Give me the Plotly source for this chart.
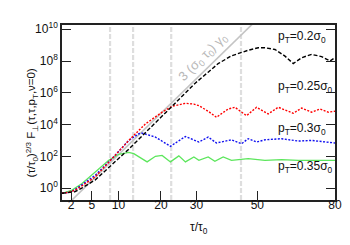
import numpy as np
import plotly.graph_objects as go

# ---------------- data ----------------
x_tick_vals = [2, 5, 10, 20, 30, 50, 80]
y_tick_exps = [0, 2, 4, 6, 8, 10]

# vertical marker times (tau/tau0)
vline_tau = [8.30, 13.18, 22.76, 44.3]

# reference line 3 (sigma0 tau0) ... : log10 values
tau_ref = [2.0, 80.0]
logF_ref = [-0.81, 15.40]

# pT = 0.2 sigma0 (black dashed)
tau_02 = [1.011, 1.646, 2.466, 3.375, 5.596, 12.21, 20.32, 29.70, 33.58, 36.75,
          41.10, 46.79, 50.31, 52.72, 56.38, 60.13, 63.30, 66.52, 70.47, 74.50,
          77.93, 80.0]
logF_02 = [-0.33, -0.29, -0.23, -0.02, 0.52, 2.45, 4.55, 6.62, 7.30, 7.84,
           8.33, 8.68, 8.84, 8.84, 8.73, 8.31, 7.84, 8.21, 8.42, 8.28,
           8.00, 8.21]

# pT = 0.25 sigma0 (red dotted)
tau_025 = [1.011, 1.646, 2.466, 3.375, 5.596, 8.691, 12.21, 16.08, 20.32, 23.01,
           26.76, 29.23, 30.73, 33.58, 36.20, 40.00, 42.24, 46.20, 49.71, 53.92,
           57.61, 63.30, 66.52, 70.47, 73.85, 77.24, 80.0]
logF_025 = [-0.33, -0.27, -0.14, 0.11, 0.71, 1.86, 3.00, 4.04, 4.78, 5.15,
            5.34, 5.29, 5.19, 4.84, 4.46, 4.98, 5.09, 4.56, 5.09, 4.67,
            5.09, 4.71, 5.04, 4.78, 4.98, 4.78, 4.84]

# pT = 0.3 sigma0 (blue dotted)
tau_03 = [1.011, 1.646, 2.466, 3.375, 5.596, 8.691, 12.21, 14.50, 15.28, 18.58,
          22.55, 26.76, 30.73, 33.58, 36.20, 41.10, 44.48, 46.79, 49.71, 52.72,
          58.85, 65.23, 70.47, 80.0]
logF_03 = [-0.33, -0.27, -0.11, 0.17, 0.81, 1.86, 3.00, 3.42, 3.46, 3.21,
           2.63, 3.25, 2.90, 3.21, 2.84, 3.04, 2.79, 3.11, 2.90, 3.04,
           3.11, 2.96, 3.00, 2.84]

# pT = 0.35 sigma0 (green solid)
tau_035 = [1.011, 2.121, 3.477, 5.596, 8.045, 10.05, 12.21, 13.34, 16.50, 18.58,
           20.32, 22.55, 24.88, 26.76, 29.23, 30.73, 33.58, 35.69, 38.36, 41.10,
           46.79, 52.72, 58.85, 65.23, 80.0]
logF_035 = [-0.33, -0.13, 0.29, 1.03, 1.75, 2.13, 2.25, 2.17, 1.65, 2.00,
            2.06, 1.65, 2.03, 1.65, 1.96, 1.75, 1.96, 1.69, 1.96, 1.75,
            1.86, 1.75, 1.79, 1.75, 1.75]

labels = ["p<sub>T</sub>=0.2σ<sub>0</sub>", "p<sub>T</sub>=0.25σ<sub>0</sub>",
          "p<sub>T</sub>=0.3σ<sub>0</sub>", "p<sub>T</sub>=0.35σ<sub>0</sub>"]
label_logy = [9.50, 6.35, 3.75, 1.30]

# ---------------- figure ----------------
def u(t):
    return np.asarray(t, dtype=float) ** (2.0 / 3.0)

FONT = "Liberation Sans, Arial, sans-serif"
fig = go.Figure()

fig.add_trace(go.Scatter(x=u(tau_ref), y=10 ** np.asarray(logF_ref), mode="lines",
                         line=dict(color="#c4c4c4", width=1.6),
                         showlegend=False, hoverinfo="skip"))

series = [
    (tau_035, logF_035, dict(color="#5ce65c", width=1.3)),
    (tau_03, logF_03, dict(color="#1010f0", width=1.4, dash="2px,1.5px")),
    (tau_025, logF_025, dict(color="#ff0000", width=1.4, dash="2px,1.5px")),
    (tau_02, logF_02, dict(color="#000000", width=1.4, dash="4px,2px")),
]
for t, lf, ln in series:
    fig.add_trace(go.Scatter(x=u(t), y=10 ** np.asarray(lf), mode="lines",
                             line=ln, showlegend=False, hoverinfo="skip"))

for tv in vline_tau:
    fig.add_shape(type="line", xref="x", yref="paper", x0=u(tv), x1=u(tv), y0=0, y1=1,
                  line=dict(color="#dedede", width=2.2, dash="5px,2px"), layer="below")

x_label = float(u(56.6))
for txt, ly in zip(labels, label_logy):
    fig.add_annotation(x=x_label, y=ly, xref="x", yref="y", text=txt, showarrow=False,
                       xanchor="left", yanchor="middle",
                       font=dict(family=FONT, size=12, color="#111"))

fig.add_annotation(x=float(u(32.0)), y=8.25, xref="x", yref="y",
                   text="3 (σ<sub>0</sub> τ<sub>0</sub>) γ<sub>0</sub>",
                   showarrow=False, textangle=-45,
                   font=dict(family=FONT, size=13, color="#b8b8b8"))

fig.add_annotation(x=-0.148, y=0.44, xref="paper", yref="paper",
                   text="(τ/τ<sub>0</sub>)<sup>2/3</sup> F<sub>⊥</sub>(τ,τ,p<sub>T</sub>,ν=0)",
                   showarrow=False, textangle=-90,
                   font=dict(family=FONT, size=11.5, color="#111"))
fig.add_annotation(x=0.5, y=-0.215, xref="paper", yref="paper",
                   text="τ/τ<sub>0</sub>", showarrow=False,
                   font=dict(family=FONT, size=12, color="#111"))

fig.update_layout(
    width=350, height=245,
    margin=dict(l=54, r=23, t=15, b=53),
    plot_bgcolor="white", paper_bgcolor="white",
    font=dict(family=FONT, size=12, color="#111"),
    xaxis=dict(range=[1.0075, 18.566], tickvals=list(u(x_tick_vals)),
               ticktext=[str(v) for v in x_tick_vals],
               ticks="inside", ticklen=9, tickcolor="#222", tickwidth=1.2,
               ticklabelstandoff=-7,
               showline=True, linecolor="#222", linewidth=1.6, mirror=True,
               showgrid=False, zeroline=False),
    yaxis=dict(type="log", range=[-0.75, 10.27],
               tickvals=[10 ** k for k in y_tick_exps],
               ticktext=["10<sup>%d</sup>" % k for k in y_tick_exps],
               ticks="inside", ticklen=9, tickcolor="#222", tickwidth=1.2,
               showline=True, linecolor="#222", linewidth=1.6, mirror="ticks",
               showgrid=False, zeroline=False),
)

fig.write_html("out.html")
